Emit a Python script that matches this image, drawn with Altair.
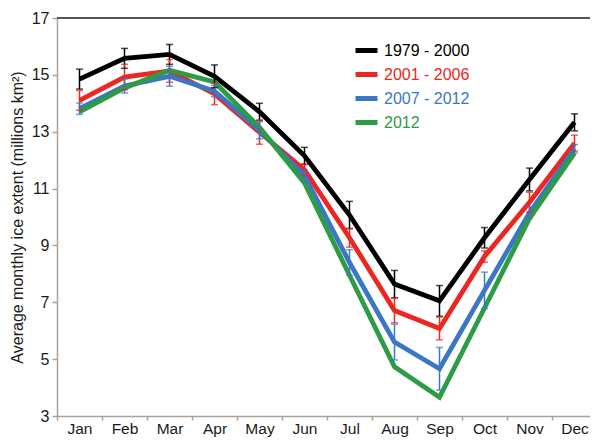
import altair as alt
import pandas as pd

months = ["Jan", "Feb", "Mar", "Apr", "May", "Jun", "Jul", "Aug", "Sep", "Oct", "Nov", "Dec"]
series = ["1979 - 2000", "2001 - 2006", "2007 - 2012", "2012"]
colors = ["#000000", "#ec2620", "#3a77c5", "#2e9c44"]

v_1979_2000 = [14.85, 15.58, 15.72, 14.95, 13.70, 12.15, 10.07, 7.64, 7.05, 9.27, 11.32, 13.33]
e_1979_2000 = [0.35, 0.35, 0.35, 0.40, 0.30, 0.30, 0.48, 0.48, 0.54, 0.36, 0.40, 0.30]
v_2001_2006 = [14.10, 14.92, 15.14, 14.33, 12.98, 11.66, 9.27, 6.71, 6.08, 8.61, 10.52, 12.60]
e_2001_2006 = [0.35, 0.45, 0.40, 0.38, 0.42, 0.20, 0.33, 0.43, 0.40, 0.20, 0.35, 0.28]
v_2007_2012 = [13.81, 14.61, 14.95, 14.43, 13.05, 11.45, 8.40, 5.60, 4.66, 7.42, 10.15, 12.40]
e_2007_2012 = [0.20, 0.25, 0.35, 0.20, 0.30, 0.20, 0.45, 0.63, 0.75, 0.64, 0.20, 0.15]
v_2012 = [13.70, 14.54, 15.16, 14.75, 13.15, 11.20, 7.95, 4.73, 3.66, 6.80, 9.95, 12.25]

rows = []
for name, vals, errs in [
    (series[0], v_1979_2000, e_1979_2000),
    (series[1], v_2001_2006, e_2001_2006),
    (series[2], v_2007_2012, e_2007_2012),
    (series[3], v_2012, None),
]:
    for i, m in enumerate(months):
        r = {"month": m, "series": name, "value": vals[i], "order": series.index(name)}
        if errs is not None:
            r["lo"] = vals[i] - errs[i]
            r["hi"] = vals[i] + errs[i]
        rows.append(r)
df = pd.DataFrame(rows)
err_df = df.dropna(subset=["lo"])

FONT = "Liberation Sans"
TXT = "#1a1a1a"
AX = "#a8a39e"

x_enc = alt.X(
    "month:N",
    sort=months,
    scale=alt.Scale(type="band", paddingInner=0, paddingOuter=0),
    axis=alt.Axis(
        title=None, tickBand="extent", labelAngle=0, labelFontSize=15.5, labelFont=FONT,
        labelColor=TXT, domainColor=AX, tickColor=AX, tickSize=4, labelPadding=1,
        domainWidth=1.5, tickWidth=1.5,
    ),
)
y_scale = alt.Scale(domain=[3, 17], nice=False, zero=False)
y_axis = alt.Axis(
    title="Average monthly ice extent (millions km²)", values=[3, 5, 7, 9, 11, 13, 15, 17],
    grid=False, labelFontSize=16, labelFont=FONT, labelColor=TXT, titleFont=FONT,
    titleFontSize=16, titleFontWeight="normal", titleColor=TXT, domainColor=AX,
    tickColor=AX, tickSize=5, labelPadding=3, titlePadding=6, domainWidth=1.5, tickWidth=1.5,
)
color_scale = alt.Scale(domain=series, range=colors)

label_color_expr = (
    "datum.label == '1979 - 2000' ? '#000000' : datum.label == '2001 - 2006' ? '#ec2620' : "
    "datum.label == '2007 - 2012' ? '#3a77c5' : '#2e9c44'"
)

top_rule = alt.Chart(pd.DataFrame({"t": [17]})).mark_rule(color="#555555", strokeWidth=2).encode(
    y=alt.Y("t:Q", scale=y_scale, axis=y_axis)
)

lines = alt.Chart(df).mark_line(strokeWidth=4.8).encode(
    x=x_enc,
    y=alt.Y("value:Q", scale=y_scale, axis=y_axis),
    color=alt.Color(
        "series:N", scale=color_scale, sort=series,
        legend=alt.Legend(
            title=None, orient="none", legendX=296, legendY=19, symbolType="stroke",
            symbolStrokeWidth=5, symbolSize=484, labelFontSize=16, labelFont=FONT,
            labelColor={"expr": label_color_expr}, rowPadding=-1, labelOffset=4,
        ),
    ),
    order=alt.Order("order:Q"),
)

err_rules = alt.Chart(err_df).mark_rule(strokeWidth=1.5).encode(
    x=x_enc,
    y=alt.Y("lo:Q", scale=y_scale, axis=y_axis),
    y2="hi:Q",
    color=alt.Color("series:N", scale=color_scale, legend=None),
)
err_lo = alt.Chart(err_df).mark_tick(size=7, thickness=1.5).encode(
    x=x_enc,
    y=alt.Y("lo:Q", scale=y_scale, axis=y_axis),
    color=alt.Color("series:N", scale=color_scale, legend=None),
)
err_hi = alt.Chart(err_df).mark_tick(size=7, thickness=1.5).encode(
    x=x_enc,
    y=alt.Y("hi:Q", scale=y_scale, axis=y_axis),
    color=alt.Color("series:N", scale=color_scale, legend=None),
)

chart = (
    alt.layer(top_rule, lines, err_rules, err_lo, err_hi)
    .properties(
        width=540, height=398,
        autosize=alt.AutoSizeParams(type="none"),
        padding={"left": 49, "top": 10, "right": -7, "bottom": 24},
    )
    .configure_view(stroke=None)
)

chart.save("out.html", embed_options={"renderer": "svg", "actions": False})
